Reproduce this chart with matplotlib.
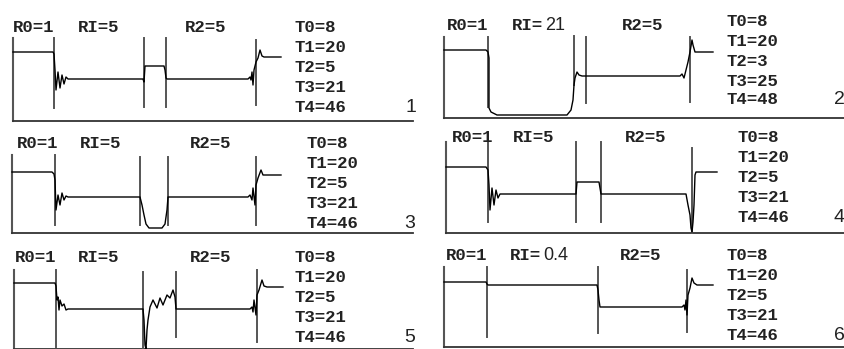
import matplotlib
matplotlib.use("Agg")
import matplotlib.pyplot as plt

# waveform samples: time (px from left border), level (px above base line)

# panel 1
t1 = [0, 40, 41, 42, 43, 45, 47, 49, 51, 53, 55, 130, 131, 132, 151, 152, 153, 154,
      235, 237, 238, 239, 240, 241, 243, 245, 247, 249, 251, 268]
v1 = [69, 69, 67, 51, 31, 49, 33, 46, 37, 44, 42, 42, 39, 55, 55, 51, 43, 42,
      42, 44, 41, 49, 36, 51, 59, 63, 71, 65, 64, 64]
marks1 = [41, 131, 153, 243]
rl1 = ["R0=1", "RI=5", "R2=5"]
tl1 = ["T0=8", "T1=20", "T2=5", "T3=21", "T4=46"]

# panel 2
t2 = [0, 42, 44, 45, 45, 47, 53, 123, 127, 129, 130, 131, 133, 135, 138,
      236, 238, 240, 242, 244, 246, 248, 249, 251, 253, 269]
v2 = [68, 68, 66, 60, 10, 6, 3, 3, 8, 18, 33, 40, 46, 43, 42,
      42, 44, 40, 48, 56, 66, 78, 73, 66, 66, 66]
marks2 = [44, 130, 142, 246]
rl2 = ["R0=1", "RI=", "R2=5"]
ri2 = "21"
tl2 = ["T0=8", "T1=20", "T2=3", "T3=25", "T4=48"]

# panel 3
t3 = [0, 40, 42, 43, 44, 46, 48, 50, 52, 54, 56, 128, 130, 132, 134, 137, 150, 153, 155, 156,
      236, 238, 240, 241, 243, 244, 246, 249, 251, 253, 269]
v3 = [61, 61, 59, 53, 23, 38, 28, 40, 33, 37, 36, 36, 28, 18, 9, 5, 5, 9, 23, 36,
      36, 38, 33, 45, 28, 48, 55, 63, 58, 58, 58]
marks3 = [43, 128, 156, 244]
rl3 = ["R0=1", "RI=5", "R2=5"]
tl3 = ["T0=8", "T1=20", "T2=5", "T3=21", "T4=46"]

# panel 4
t4 = [0, 40, 42, 43, 44, 46, 48, 50, 52, 54, 130, 131, 153, 155,
      240, 242, 244, 245, 246, 247, 248, 249, 250, 271]
v4 = [66, 66, 63, 48, 23, 45, 28, 43, 35, 39, 39, 51, 51, 39,
      39, 28, 18, 5, 1, 11, 28, 58, 61, 61]
marks4 = [42, 130, 155, 246]
rl4 = ["R0=1", "RI=5", "R2=5"]
tl4 = ["T0=8", "T1=20", "T2=5", "T3=21", "T4=46"]

# panel 5
t5 = [0, 41, 42, 43, 44, 45, 46, 48, 50, 52, 54, 129, 130, 131, 132, 133, 134, 136,
      139, 143, 146, 149, 153, 156, 159, 161, 162,
      236, 238, 239, 240, 242, 243, 245, 248, 250, 253, 269]
v5 = [66, 66, 63, 49, 52, 39, 49, 43, 45, 39, 40, 40, 29, 4, 0, 19, 29, 42,
      49, 41, 51, 44, 54, 51, 59, 52, 40,
      40, 42, 37, 49, 34, 54, 59, 69, 63, 62, 62]
marks5 = [42, 129, 162, 243]
rl5 = ["R0=1", "RI=5", "R2=5"]
tl5 = ["T0=8", "T1=20", "T2=5", "T3=21", "T4=46"]

# panel 6
t6 = [0, 42, 43, 44, 153, 154, 155, 156, 238, 240, 241, 242, 243, 244, 246, 248, 250, 253, 269]
v6 = [65, 65, 63, 62, 62, 57, 47, 40, 40, 42, 37, 47, 32, 52, 59, 69, 64, 62, 62]
marks6 = [43, 154, 243]
rl6 = ["R0=1", "RI=", "R2=5"]
ri6 = "0.4"
tl6 = ["T0=8", "T1=20", "T2=5", "T3=21", "T4=46"]

panels = [
    dict(n="1", t=t1, v=v1, marks=marks1, rl=rl1, ri=None, tl=tl1,
         org=(13, 121), w=400, border=83, spans=[(13, 83), (14, 83), (14, 83), (16, 81)],
         rx=[0, 65, 172], rv=94, tx=282, tv=[94, 74, 54, 34, 14], nx=393, nv=14),
    dict(n="2", t=t2, v=v2, marks=marks2, rl=rl2, ri=ri2, tl=tl2,
         org=(444, 118), w=401, border=81, spans=[(11, 81), (33, 82), (15, 81), (16, 81)],
         rx=[3, 68, 178], rv=93, tx=283, tv=[96, 76, 56, 37, 18], nx=390, nv=18),
    dict(n="3", t=t3, v=v3, marks=marks3, rl=rl3, ri=None, tl=tl3,
         org=(12, 233), w=401, border=78, spans=[(8, 78), (8, 76), (8, 76), (8, 76)],
         rx=[5, 68, 178], rv=90, tx=295, tv=[90, 70, 50, 30, 10], nx=392, nv=10),
    dict(n="4", t=t4, v=v4, marks=marks4, rl=rl4, ri=None, tl=tl4,
         org=(446, 233), w=399, border=91, spans=[(11, 91), (11, 91), (11, 91), (0, 85)],
         rx=[6, 67, 179], rv=96, tx=292, tv=[95, 75, 55, 35, 15], nx=388, nv=15),
    dict(n="5", t=t5, v=v5, marks=marks5, rl=rl5, ri=None, tl=tl5,
         org=(14, 349), w=399, border=79, spans=[(2, 79), (0, 77), (12, 77), (7, 79)],
         rx=[1, 64, 176], rv=92, tx=281, tv=[92, 72, 52, 32, 12], nx=390, nv=12),
    dict(n="6", t=t6, v=v6, marks=marks6, rl=rl6, ri=ri6, tl=tl6,
         org=(444, 347), w=401, border=80, spans=[(10, 80), (14, 80), (15, 77)],
         rx=[2, 66, 176], rv=91, tx=283, tv=[92, 72, 52, 32, 12], nx=390, nv=12),
]

W, H = 845, 349
fig = plt.figure(figsize=(W / 100, H / 100), dpi=100)
fig.patch.set_facecolor("white")

mono = dict(family="Liberation Mono", weight="bold", size=12.5, color="#222222")
sans = dict(family="Liberation Sans", color="#222222")

for p in panels:
    x0, yb = p["org"]
    ph = 115
    ax = fig.add_axes([x0 / W, (H - yb) / H, p["w"] / W, ph / H])
    ax.set_xlim(0, p["w"])
    ax.set_ylim(0, ph)
    ax.axis("off")

    # frame: left border and base line
    ax.plot([0, 0], [0, p["border"]], color="#555555", lw=1.5, clip_on=False)
    ax.plot([0, p["w"]], [0, 0], color="#333333", lw=1.3, clip_on=False)

    # event markers
    for m, (lo, hi) in zip(p["marks"], p["spans"]):
        ax.plot([m, m], [lo, hi], color="#555555", lw=1.4, clip_on=False)

    # waveform
    ax.plot(p["t"], p["v"], color="black", lw=1.0, clip_on=False)

    # labels
    for lab, x in zip(p["rl"], p["rx"]):
        ax.text(x, p["rv"], lab, ha="left", va="center", **mono)
    if p["ri"]:
        ax.text(p["rx"][1] + 33, p["rv"], p["ri"], ha="left", va="center", size=13, **sans)
    for lab, v in zip(p["tl"], p["tv"]):
        ax.text(p["tx"], v, lab, ha="left", va="center", **mono)
    ax.text(p["nx"], p["nv"], p["n"], ha="left", va="center", size=14, **sans)

fig.savefig("out.png", dpi=100, facecolor="white")
